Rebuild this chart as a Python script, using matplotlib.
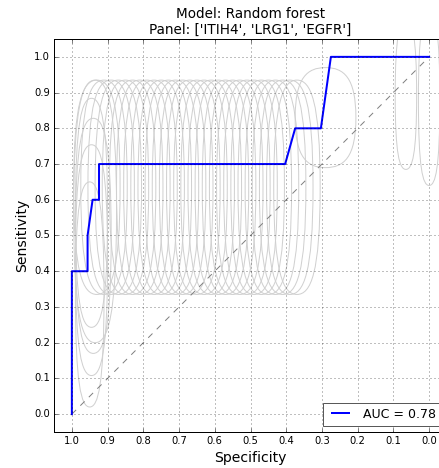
import matplotlib
matplotlib.use("Agg")
import matplotlib.pyplot as plt
from matplotlib.path import Path
from matplotlib.patches import PathPatch

# ROC curve of the model (specificity, sensitivity)
roc_spec = [1.0, 1.0, 0.956, 0.956, 0.942, 0.924, 0.924, 0.403, 0.375, 0.303, 0.275, 0.0]
roc_sens = [0.0, 0.4, 0.4, 0.5, 0.6, 0.6, 0.7, 0.7, 0.8, 0.8, 1.0, 1.0]
auc = 0.78

# bootstrap curves (drawn as closed loops): centre specificity, half width, sensitivity range
loop_spec = [0.93, 0.91, 0.89, 0.87, 0.85, 0.83, 0.81, 0.79, 0.77, 0.75,
             0.73, 0.71, 0.69, 0.67, 0.65, 0.63, 0.61, 0.59, 0.57, 0.55,
             0.53, 0.51, 0.49, 0.47, 0.45, 0.43, 0.41, 0.39, 0.37,
             0.945, 0.94, 0.945, 0.95, 0.935,
             0.29, 0.065, 0.0]
loop_hw = [0.065] * 29 + [0.045, 0.05, 0.045, 0.04, 0.06, 0.085, 0.03, 0.03]
loop_lo = [0.335] * 29 + [0.243, 0.17, 0.108, 0.02, 0.2, 0.69, 0.685, 0.64]
loop_hi = [0.935] * 29 + [0.884, 0.828, 0.754, 0.65, 0.935, 0.97, 1.1, 1.12]

ticks = [1.0, 0.9, 0.8, 0.7, 0.6, 0.5, 0.4, 0.3, 0.2, 0.1, 0.0]


def loop_path(cx, hw, lo, hi, kx=0.6, ky=0.8):
    cy = (lo + hi) / 2.0
    hh = (hi - lo) / 2.0
    verts = [(cx + hw, cy),
             (cx + hw, cy + ky * hh), (cx + kx * hw, hi), (cx, hi),
             (cx - kx * hw, hi), (cx - hw, cy + ky * hh), (cx - hw, cy),
             (cx - hw, cy - ky * hh), (cx - kx * hw, lo), (cx, lo),
             (cx + kx * hw, lo), (cx + hw, cy - ky * hh), (cx + hw, cy)]
    codes = [Path.MOVETO] + [Path.CURVE4] * 12
    return Path(verts, codes)


plt.style.use("classic")
fig = plt.figure(figsize=(439 / 72.0, 468 / 72.0), dpi=72, facecolor="white")
ax = fig.add_axes([54 / 439.0, 36 / 468.0, 393 / 439.0, 393 / 468.0])

for cx, hw, lo, hi in zip(loop_spec, loop_hw, loop_lo, loop_hi):
    ax.add_patch(PathPatch(loop_path(cx, hw, lo, hi), facecolor="none",
                           edgecolor="#d0d0d0", lw=1.0))

ax.plot([1, 0], [0, 1], "--", color="gray", lw=1.0)
ax.plot(roc_spec, roc_sens, "b-", lw=2, label="AUC = %.2f" % auc)

ax.set_xlim(1.05, -0.05)
ax.set_ylim(-0.05, 1.05)
ax.set_xticks(ticks)
ax.set_yticks(ticks[::-1])
ax.tick_params(labelsize=10)
ax.grid(True)
ax.set_xlabel("Specificity", fontsize=14)
ax.set_ylabel("Sensitivity", fontsize=14)
ax.set_title("Model: Random forest\nPanel: ['ITIH4', 'LRG1', 'EGFR']", fontsize=13.5)
leg = ax.legend(loc="lower right", fontsize=12.5)
leg.get_frame().set_edgecolor("0.35")

fig.savefig("out.png", dpi=72, facecolor="white")
